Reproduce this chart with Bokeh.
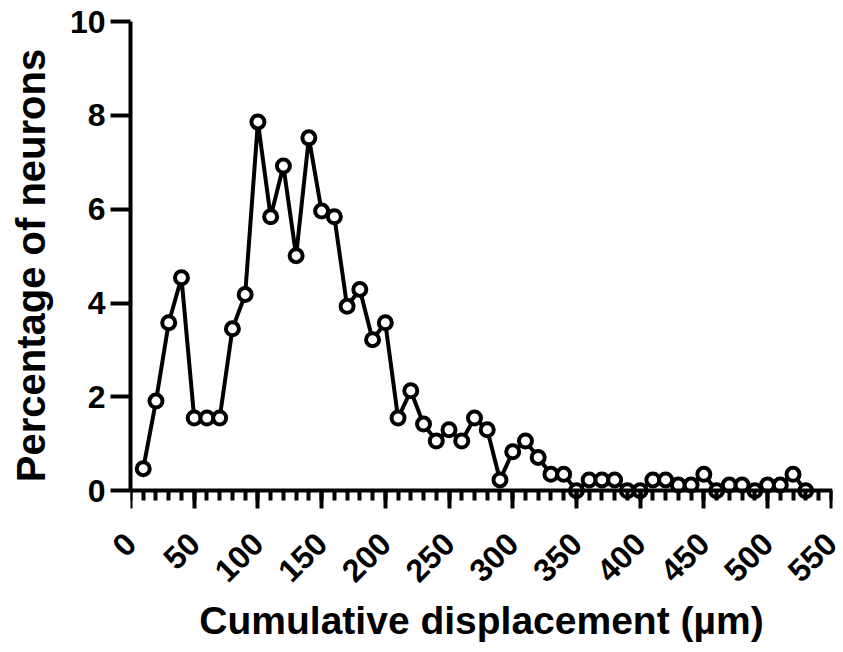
import math
from bokeh.plotting import figure
from bokeh.models import Range1d, FixedTicker, LinearAxis, CustomJSTickFormatter
from bokeh.embed import file_html
from bokeh.resources import INLINE

# Data
displacement = [10, 20, 30, 40, 50, 60, 70, 80, 90, 100,
                110, 120, 130, 140, 150, 160, 170, 180, 190, 200,
                210, 220, 230, 240, 250, 260, 270, 280, 290, 300,
                310, 320, 330, 340, 350, 360, 370, 380, 390, 400,
                410, 420, 430, 440, 450, 460, 470, 480, 490, 500,
                510, 520, 530]
percentage = [0.47, 1.91, 3.58, 4.54, 1.55, 1.55, 1.55, 3.45, 4.18, 7.86,
              5.84, 6.92, 5.01, 7.52, 5.96, 5.84, 3.93, 4.29, 3.22, 3.58,
              1.55, 2.13, 1.42, 1.06, 1.30, 1.06, 1.55, 1.30, 0.23, 0.83,
              1.06, 0.71, 0.35, 0.35, 0.0, 0.23, 0.23, 0.23, 0.0, 0.0,
              0.23, 0.23, 0.12, 0.12, 0.35, 0.0, 0.12, 0.12, 0.0, 0.12,
              0.12, 0.35, 0.0]
x_ticks = [0, 50, 100, 150, 200, 250, 300, 350, 400, 450, 500, 550]
x_minor = list(range(0, 551, 10))
y_ticks = [0, 2, 4, 6, 8, 10]

FONT = "Liberation Sans"

p = figure(
    frame_width=702, frame_height=488,
    min_border_left=130, min_border_right=11,
    min_border_top=21, min_border_bottom=130,
    x_range=Range1d(0, 551), y_range=Range1d(-0.4, 10),
    x_axis_location=None,
    output_backend="svg", toolbar_location=None,
    background_fill_color="white", border_fill_color="white",
)
p.outline_line_color = None
p.grid.visible = False

p.line(displacement, percentage, line_color="black", line_width=4)
p.scatter(displacement, percentage, size=13, fill_color="white",
          line_color="black", line_width=4)

# Axis line and ticks, pinned at y = 0 (labels are drawn by the axis below)
line_axis = LinearAxis(
    fixed_location=0,
    ticker=FixedTicker(ticks=x_ticks, minor_ticks=x_minor),
    formatter=CustomJSTickFormatter(code="return ''"),
    axis_line_width=4, major_tick_line_width=4, minor_tick_line_width=4,
    major_tick_in=18, major_tick_out=0, minor_tick_in=10, minor_tick_out=0,
    major_label_standoff=0,
)
p.add_layout(line_axis, "above")

# Tick labels and axis title below the frame
label_axis = LinearAxis(
    bounds=(0, 559),
    ticker=FixedTicker(ticks=x_ticks, minor_ticks=[]),
    axis_line_color=None, major_tick_line_color=None, minor_tick_line_color=None,
    major_tick_in=0, major_tick_out=0, minor_tick_in=0, minor_tick_out=0,
    major_label_orientation=math.pi / 4,
    major_label_text_font=FONT, major_label_text_font_style="bold",
    major_label_text_font_size="32px", major_label_text_color="black",
    major_label_standoff=29,
    axis_label="Cumulative displacement (µm)",
    axis_label_text_font=FONT, axis_label_text_font_style="bold",
    axis_label_text_font_size="39px", axis_label_text_color="black",
    axis_label_standoff=4,
)
p.add_layout(label_axis, "below")

ya = p.yaxis[0]
ya.bounds = (0, 10)
ya.ticker = FixedTicker(ticks=y_ticks, minor_ticks=[])
ya.axis_line_width = 4
ya.major_tick_line_width = 4
ya.major_tick_out = 20
ya.major_tick_in = 0
ya.minor_tick_out = 0
ya.minor_tick_in = 0
ya.major_label_text_font = FONT
ya.major_label_text_font_style = "bold"
ya.major_label_text_font_size = "32px"
ya.major_label_text_color = "black"
ya.major_label_standoff = 5
ya.axis_label = "Percentage of neurons"
ya.axis_label_text_font = FONT
ya.axis_label_text_font_style = "bold"
ya.axis_label_text_font_size = "40px"
ya.axis_label_text_color = "black"
ya.axis_label_standoff = 14

open("out.html", "w").write(file_html(p, INLINE))
